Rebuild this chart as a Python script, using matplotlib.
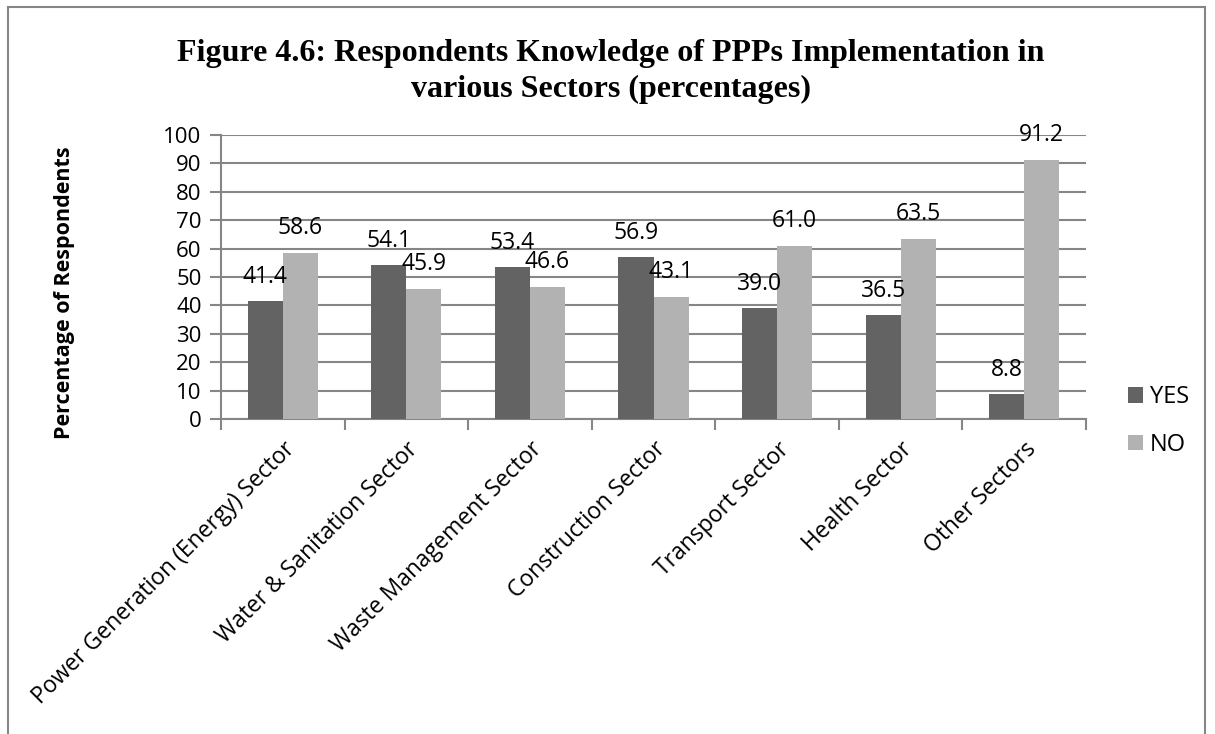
import numpy as np
import matplotlib.pyplot as plt
from matplotlib.patches import Rectangle

sectors = ['Power Generation (Energy) Sector', 'Water & Sanitation Sector',
           'Waste Management Sector', 'Construction Sector', 'Transport Sector',
           'Health Sector', 'Other Sectors']
yes_vals = [41.4, 54.1, 53.4, 56.9, 39.0, 36.5, 8.8]
no_vals = [58.6, 45.9, 46.6, 43.1, 61.0, 63.5, 91.2]

fig = plt.figure(figsize=(12.15, 7.34), dpi=100)
ax = fig.add_axes([221 / 1215, 1 - 419 / 734, (1086 - 221) / 1215, (419 - 135) / 734])

# outer frame like the Excel chart area
fig.patches.append(Rectangle((8 / 1215, -0.1), (1205 - 8) / 1215, 1.1 - 7 / 734,
                             transform=fig.transFigure, fill=False,
                             edgecolor='#868686', linewidth=1.5))

x = np.arange(len(sectors))
w = 0.284
grid_c = '#868686'
lbl_font = 'Open Sans'

ax.bar(x - w / 2, yes_vals, w, color='#636363', label='YES', zorder=3)
ax.bar(x + w / 2, no_vals, w, color='#b2b2b2', label='NO', zorder=3)

for xs, vals in [(x - w / 2, yes_vals), (x + w / 2, no_vals)]:
    for xi, v in zip(xs, vals):
        ax.annotate(f'{v:.1f}', (xi, v), xytext=(0, 9), textcoords='offset points',
                    ha='center', va='bottom', fontsize=16.5, family=lbl_font, zorder=4)

ax.set_xlim(-0.5, len(sectors) - 0.5)
ax.set_ylim(0, 100)
ax.set_yticks(range(0, 101, 10))
ax.yaxis.grid(True, color=grid_c, linewidth=1.5, zorder=0)
ax.set_axisbelow(True)

ax.set_xticks(x)
ax.set_xticklabels(sectors, rotation=45, ha='right', va='top',
                   rotation_mode='anchor', fontsize=16.5, family=lbl_font)
ax.set_xticks(np.arange(-0.5, len(sectors), 1), minor=True)
ax.tick_params(axis='x', which='major', length=0, pad=13)
ax.tick_params(axis='x', which='minor', length=8, width=1.5, color=grid_c)
ax.tick_params(axis='y', length=8, width=1.5, color=grid_c, labelsize=16, pad=6)
for t in ax.get_yticklabels():
    t.set_family(lbl_font)

for s in ['top', 'right']:
    ax.spines[s].set_visible(False)
for s in ['left', 'bottom']:
    ax.spines[s].set_color(grid_c)
    ax.spines[s].set_linewidth(1.5)

ax.set_ylabel('Percentage of Respondents', fontsize=15.5, fontweight='bold',
              family=lbl_font)
ax.yaxis.set_label_coords(-0.169, 0.444)

fig.text(0.503, 0.903, 'Figure 4.6: Respondents Knowledge of PPPs Implementation in\nvarious Sectors (percentages)',
         ha='center', va='center', fontsize=23, fontweight='bold',
         family='Liberation Serif', linespacing=1.3)

leg = fig.legend(loc='center left', bbox_to_anchor=(1128 / 1215, 1 - 421 / 734),
                 frameon=False, prop={'family': lbl_font, 'size': 17},
                 handlelength=0.64, handleheight=0.64, labelspacing=1.0,
                 handletextpad=0.3, borderpad=0, borderaxespad=0)

fig.savefig('out.png', dpi=100)
